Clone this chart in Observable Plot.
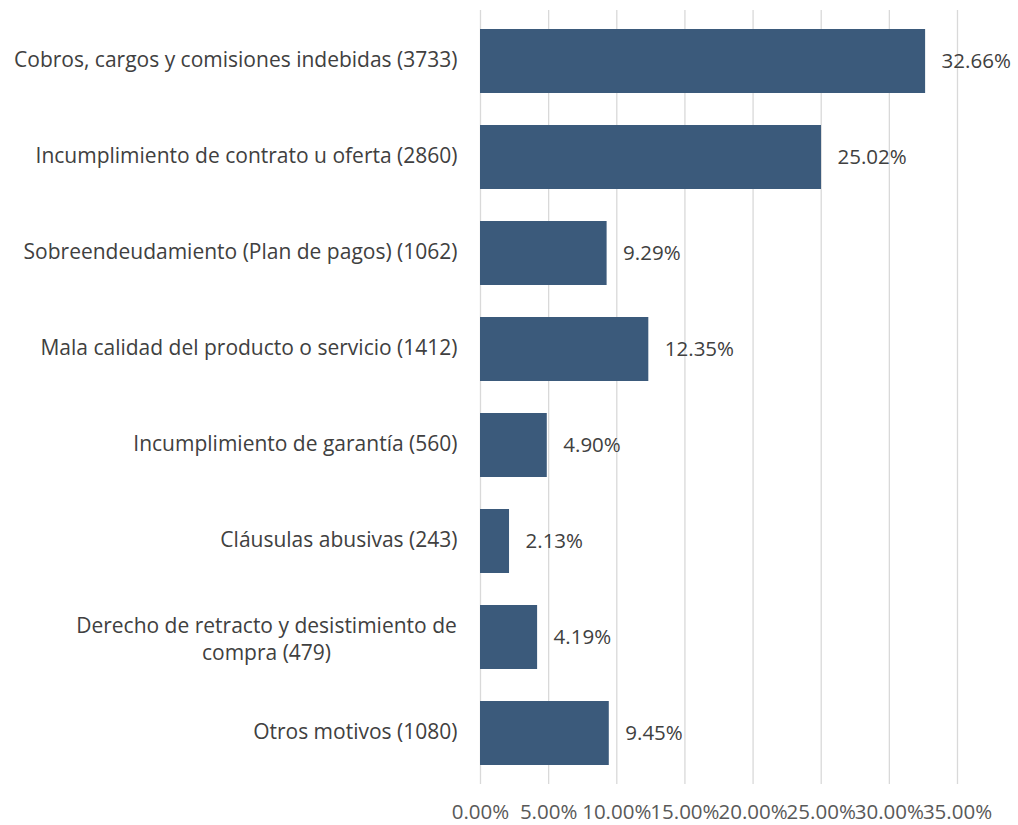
<!DOCTYPE html>
<html>
<head>
<meta charset="utf-8">
<script src="https://cdn.jsdelivr.net/npm/d3@7"></script>
<script src="https://cdn.jsdelivr.net/npm/@observablehq/plot@0.6"></script>
<style>
  html, body { margin: 0; padding: 0; background: #fff; }
  #chart svg { display: block; }
</style>
</head>
<body>
<div id="chart"></div>
<script>
const categories = [
  "Cobros, cargos y comisiones indebidas (3733)",
  "Incumplimiento de contrato u oferta (2860)",
  "Sobreendeudamiento (Plan de pagos) (1062)",
  "Mala calidad del producto o servicio (1412)",
  "Incumplimiento de garantía (560)",
  "Cláusulas abusivas (243)",
  "Derecho de retracto y desistimiento de\ncompra (479)",
  "Otros motivos (1080)"
];
const percents = [32.66, 25.02, 9.29, 12.35, 4.90, 2.13, 4.19, 9.45];
const xTicks = [0, 5, 10, 15, 20, 25, 30, 35];

const data = categories.map((c, i) => ({category: c, value: percents[i]}));
const singleLine = data.filter(d => !d.category.includes("\n"));
const multiLine = data.filter(d => d.category.includes("\n"));

const font = "'Open Sans', sans-serif";
const textColor = "#404040";
const fs = 20.5;
const catFs = 21;

const chart = Plot.plot({
  width: 1018,
  height: 825,
  marginLeft: 480,
  marginRight: 61,
  marginTop: 10,
  marginBottom: 41,
  style: {fontFamily: font, fontSize: fs + "px", color: "#595959", background: "#fff"},
  x: {domain: [0, 35], ticks: xTicks, tickFormat: d => d.toFixed(2) + "%", label: null},
  y: {domain: categories, paddingInner: 0.33, paddingOuter: 0.17, axis: null},
  marks: [
    Plot.ruleX(xTicks, {stroke: "#d9d9d9", strokeWidth: 1.3}),
    Plot.axisX({ticks: xTicks, tickSize: 0, tickPadding: 20, tickFormat: d => d.toFixed(2) + "%", label: null, fill: "#595959", fontSize: fs}),
    Plot.barX(data, {x: "value", y: "category", fill: "#3b5a7b"}),
    Plot.text(data, {x: "value", y: "category", text: d => d.value.toFixed(2) + "%", textAnchor: "start", dx: 16, fill: textColor, fontSize: fs}),
    Plot.text(singleLine, {x: 0, y: "category", text: "category", textAnchor: "end", dx: -23, dy: -1, fill: textColor, fontSize: catFs}),
    Plot.text(multiLine, {x: 0, y: "category", text: "category", textAnchor: "middle", dx: -214, lineHeight: 1.3, fill: textColor, fontSize: catFs})
  ]
});
document.getElementById("chart").appendChild(chart);
</script>
</body>
</html>
